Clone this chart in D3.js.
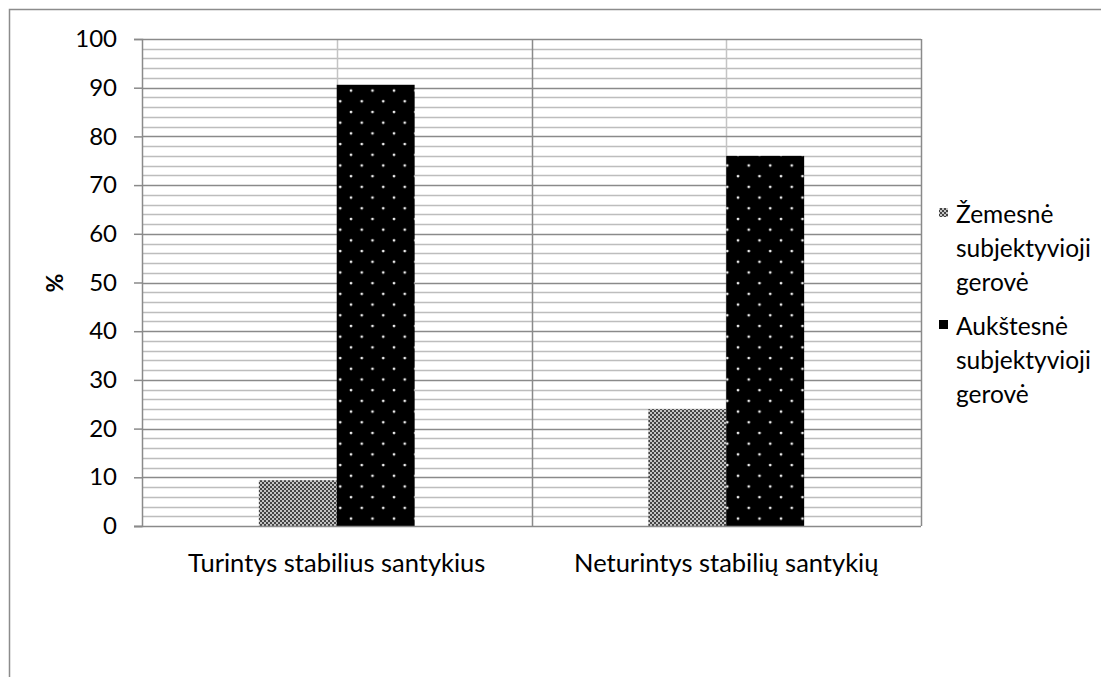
<!DOCTYPE html>
<html><head><meta charset="utf-8">
<script src="https://cdn.jsdelivr.net/npm/d3@7"></script>
<style>body{margin:0;background:#fff}svg{display:block}text{font-family:Lato,"Noto Sans",sans-serif;fill:#000}</style>
</head><body><svg id="c" width="1101" height="677"></svg>
<script>
const categories = ["Turintys stabilius santykius", "Neturintys stabilių santykių"];
const seriesNames = ["Žemesnė subjektyvioji gerovė", "Aukštesnė subjektyvioji gerovė"];
const legendLines = [["Žemesnė", "subjektyvioji", "gerovė"], ["Aukštesnė", "subjektyvioji", "gerovė"]];
const lowerValues = [9.4, 24.0];
const higherValues = [90.6, 76.0];
const yTicks = [0, 10, 20, 30, 40, 50, 60, 70, 80, 90, 100];
const yTitle = "%";

const svg = d3.select("#c");
const L = 142, R = 921, T = 39, B = 526;

// outer frame
svg.append("rect").attr("x", 9.5).attr("y", 9.5).attr("width", 1200).attr("height", 800)
  .attr("fill", "none").attr("stroke", "#8c8c8c").attr("stroke-width", 1.5);

const defs = svg.append("defs");
const pc = defs.append("pattern").attr("id", "checker").attr("patternUnits", "userSpaceOnUse")
  .attr("width", 4).attr("height", 4);
pc.append("rect").attr("width", 4).attr("height", 4).attr("fill", "#c4c4c4");
pc.append("rect").attr("x", 0).attr("y", 0).attr("width", 2).attr("height", 2).attr("fill", "#444");
pc.append("rect").attr("x", 2).attr("y", 2).attr("width", 2).attr("height", 2).attr("fill", "#444");
const pd = defs.append("pattern").attr("id", "dots").attr("patternUnits", "userSpaceOnUse")
  .attr("width", 21.5).attr("height", 21.4).attr("x", 4).attr("y", 2);
pd.append("rect").attr("width", 21.5).attr("height", 21.4).attr("fill", "#000");
pd.append("circle").attr("cx", 3).attr("cy", 3).attr("r", 1.4).attr("fill", "#eee");
pd.append("circle").attr("cx", 13.75).attr("cy", 13.7).attr("r", 1.4).attr("fill", "#eee");

const x = d3.scaleBand().domain(categories).range([L, R]).paddingInner(0).paddingOuter(0);
const xs = d3.scaleBand().domain([0, 1]).range([0, x.bandwidth()]).paddingInner(0).paddingOuter(1.5);
const y = d3.scaleLinear().domain([0, 100]).range([B, T]);

const minor = d3.range(0, 101, 2).filter(v => v % 10 !== 0);
svg.append("g").selectAll("line").data(minor).join("line")
  .attr("x1", L).attr("x2", R).attr("y1", d => Math.round(y(d)) + 0.5).attr("y2", d => Math.round(y(d)) + 0.5)
  .attr("stroke", "#bdbdbd").attr("stroke-width", 1.5);
svg.append("g").selectAll("line").data(categories).join("line")
  .attr("x1", d => Math.round(x(d) + x.bandwidth() / 2) + 0.5).attr("x2", d => Math.round(x(d) + x.bandwidth() / 2) + 0.5)
  .attr("y1", T).attr("y2", B).attr("stroke", "#c4c4c4").attr("stroke-width", 1.5);
svg.append("g").selectAll("line").data(yTicks.filter(v => v > 0)).join("line")
  .attr("x1", L).attr("x2", R).attr("y1", d => Math.round(y(d)) + 0.5).attr("y2", d => Math.round(y(d)) + 0.5)
  .attr("stroke", "#8a8a8a").attr("stroke-width", 1.5);
const bounds = categories.map(c => x(c)).concat([R]).slice(1);
svg.append("g").selectAll("line").data(bounds).join("line")
  .attr("x1", d => Math.round(d) + 0.5).attr("x2", d => Math.round(d) + 0.5)
  .attr("y1", T).attr("y2", B).attr("stroke", "#8a8a8a").attr("stroke-width", 1.5);

const series = [lowerValues, higherValues];
const fills = ["url(#checker)", "url(#dots)"];
series.forEach((vals, si) => {
  svg.append("g").selectAll("rect").data(vals).join("rect")
    .attr("x", (d, i) => x(categories[i]) + xs(si))
    .attr("width", xs.bandwidth())
    .attr("y", d => y(d)).attr("height", d => y(0) - y(d))
    .attr("fill", fills[si]);
});

const ya = svg.append("g").attr("transform", `translate(${L},0)`)
  .call(d3.axisLeft(y).tickValues(yTicks).tickSize(8).tickPadding(17).tickFormat(d3.format("d")));
ya.select(".domain").attr("stroke", "#8a8a8a").attr("stroke-width", 1.5);
ya.selectAll(".tick line").attr("stroke", "#8a8a8a").attr("stroke-width", 1.5);
ya.selectAll(".tick text").attr("font-size", 24).attr("font-family", "Lato").attr("fill", "#000");

svg.append("line").attr("x1", L - 8).attr("x2", R).attr("y1", B + 0.5).attr("y2", B + 0.5)
  .attr("stroke", "#8a8a8a").attr("stroke-width", 1.5);

svg.append("g").selectAll("text").data(categories).join("text")
  .attr("x", d => x(d) + x.bandwidth() / 2).attr("y", 572)
  .attr("text-anchor", "middle").attr("font-size", 25.5).text(d => d);

svg.append("text").attr("transform", "translate(63,283) rotate(-90)")
  .attr("text-anchor", "middle").attr("font-size", 23).attr("font-weight", "bold").text(yTitle);

const lg = svg.append("g");
const legendTop = [223, 335];
legendLines.forEach((lines, i) => {
  lg.append("rect").attr("x", 939).attr("y", legendTop[i] - 15).attr("width", 9).attr("height", 9)
    .attr("fill", fills[i]);
  lines.forEach((t, j) => {
    lg.append("text").attr("x", 956).attr("y", legendTop[i] + j * 34).attr("font-size", 24.5).text(t);
  });
});
</script></body></html>
